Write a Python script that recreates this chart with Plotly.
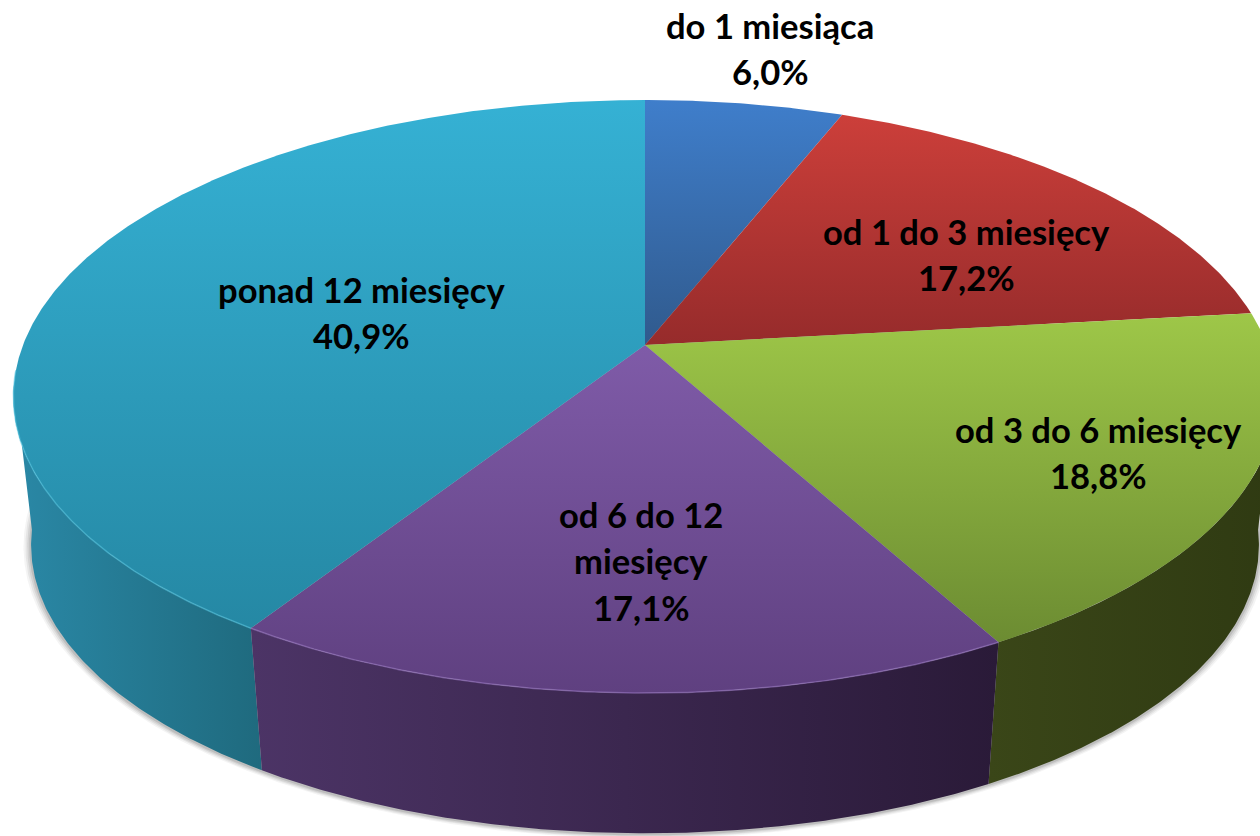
import numpy as np
import plotly.graph_objects as go

# --- data ---
categories = ["do 1 miesiąca", "od 1 do 3 miesięcy", "od 3 do 6 miesięcy", "od 6 do 12 miesięcy", "ponad 12 miesięcy"]
shares = [6.0, 17.2, 18.8, 17.1, 40.9]
label_lines = [["do 1 miesiąca"], ["od 1 do 3 miesięcy"], ["od 3 do 6 miesięcy"], ["od 6 do 12", "miesięcy"], ["ponad 12 miesięcy"]]

# --- styling ---
top_colors = [("#3F7ECB", "#305A8D"), ("#CC3F3A", "#962B2B"), ("#9EC748", "#6C8C32"), ("#7F5BA8", "#5F4080"), ("#35B1D4", "#2588A4")]
wall_colors = [None, None, ("#3A4618", "#2F3A12"), ("#4C3466", "#2A1A38"), ("#2A88A6", "#1F6A7E")]
rim_colors = [None, None, None, "#9A78C4", "#4FC3DF"]
label_pos = [(770, 25), (966, 231), (1098, 429), (641, 514), (361, 289)]
LINE_GAP = 46.5
FONT_SIZE = 34.6

# perspective projection of the pie disc
CX, CY, A, B, K = 645, 345, 622, 287.6, 0.1737
DROP, SCALE = 150, 0.972


def project(theta_deg, scale=1.0, drop=0.0):
    t = np.radians(theta_deg)
    u, v = np.sin(t), np.cos(t)
    w = 1 + K * v
    return CX + scale * A * u / w, CY + drop - scale * B * v / w


def arc(a0, a1):
    return np.linspace(a0, a1, max(int(abs(a1 - a0) * 3), 2))


edges = np.concatenate([[0], np.cumsum(shares)]) / np.sum(shares) * 360
fig = go.Figure()

# soft shadow under the wall
for grow, alpha in [(0.012, 0.06), (0.009, 0.08), (0.006, 0.10), (0.003, 0.14)]:
    sx, sy = project(arc(0, 360), SCALE + grow, DROP + 1)
    fig.add_trace(go.Scatter(x=sx, y=sy, mode="lines", fill="toself", line=dict(width=0),
                             fillcolor=f"rgba(60,60,60,{alpha})", hoverinfo="skip", showlegend=False))

# side walls; visible arcs only
wall_ranges = {2: (edges[3], 97), 3: (edges[4], edges[3]), 4: (edges[4], 263)}
for i in (4, 2, 3):
    a0, a1 = wall_ranges[i]
    th = arc(a0, a1)
    xt, yt = project(th)
    xb, yb = project(th[::-1], SCALE, DROP)
    x = np.concatenate([xt, xb, xt[:1]])
    fig.add_trace(go.Scatter(
        x=x, y=np.concatenate([yt, yb, yt[:1]]), mode="lines", fill="toself", line=dict(width=0),
        fillgradient=dict(type="horizontal", start=float(x.min()), stop=float(x.max()),
                          colorscale=[[0, wall_colors[i][0]], [1, wall_colors[i][1]]]),
        hoverinfo="skip", showlegend=False))

# top faces
for i, name in enumerate(categories):
    th = arc(edges[i], edges[i + 1])
    xa, ya = project(th)
    x = np.concatenate([[CX], xa, [CX]])
    y = np.concatenate([[CY], ya, [CY]])
    fig.add_trace(go.Scatter(
        x=x, y=y, mode="lines", fill="toself", line=dict(width=0), name=name,
        fillgradient=dict(type="vertical", start=float(y.min()), stop=float(y.max()),
                          colorscale=[[0, top_colors[i][0]], [1, top_colors[i][1]]]),
        hoverinfo="skip", showlegend=False))

# light rim along the front edge
for i in (3, 4):
    a0 = edges[i]
    a1 = edges[i + 1] if i == 3 else 265
    rx, ry = project(arc(a0, a1))
    fig.add_trace(go.Scatter(x=rx, y=ry, mode="lines", line=dict(width=1.5, color=rim_colors[i]),
                             opacity=0.55, hoverinfo="skip", showlegend=False))

# labels
for lines, share, (lx, ly) in zip(label_lines, shares, label_pos):
    texts = lines + [f"{share:.1f}%".replace(".", ",")]
    for j, txt in enumerate(texts):
        fig.add_annotation(x=lx, y=ly + j * LINE_GAP, text=f"<b>{txt}</b>", showarrow=False,
                           xanchor="center", yanchor="middle",
                           font=dict(family="Lato", size=FONT_SIZE, color="black"))

fig.update_layout(
    width=1260, height=836, margin=dict(l=0, r=0, t=0, b=0),
    paper_bgcolor="white", plot_bgcolor="white", showlegend=False,
    xaxis=dict(range=[0, 1260], visible=False, fixedrange=True),
    yaxis=dict(range=[836, 0], visible=False, fixedrange=True),
)
fig.write_html("out.html", config={"displayModeBar": False},
               post_script="document.body.style.margin='0';document.body.style.overflow='hidden';")
